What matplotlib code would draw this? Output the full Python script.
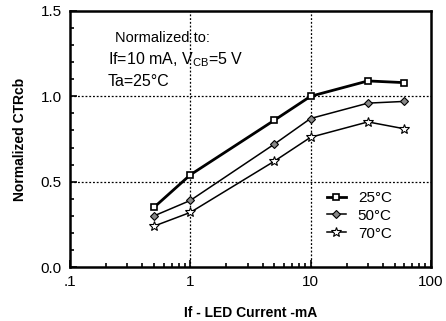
import matplotlib
matplotlib.use('Agg')
import matplotlib.pyplot as plt
from matplotlib.ticker import NullFormatter, MultipleLocator

plt.rcParams['font.family'] = ['Liberation Sans', 'DejaVu Sans']

# data
current = [0.5, 1, 5, 10, 30, 60]
ctr_25 = [0.35, 0.54, 0.86, 1.00, 1.09, 1.08]
ctr_50 = [0.30, 0.39, 0.72, 0.87, 0.96, 0.97]
ctr_70 = [0.24, 0.32, 0.62, 0.76, 0.85, 0.81]

xticks = [0.1, 1, 10, 100]
xticklabels = ['.1', '1', '10', '100']
yticks = [0.0, 0.5, 1.0, 1.5]
yticklabels = ['0.0', '0.5', '1.0', '1.5']

fig = plt.figure(figsize=(4.46, 3.21), dpi=100)
ax = fig.add_axes([0.157, 0.168, 0.809, 0.798])

ax.plot(current, ctr_25, color='k', lw=2.0, marker='s', ms=5, mfc='white',
        mec='k', mew=1.2, label='25\u00b0C')
ax.plot(current, ctr_50, color='k', lw=1.1, marker='D', ms=4.5, mfc='#888888',
        mec='k', mew=0.8, label='50\u00b0C')
ax.plot(current, ctr_70, color='k', lw=1.1, marker='*', ms=7, mfc='white',
        mec='k', mew=0.8, label='70\u00b0C')

ax.set_xscale('log')
ax.set_xlim(0.1, 100)
ax.set_ylim(0, 1.5)
ax.set_xticks(xticks)
ax.set_xticklabels(xticklabels)
ax.xaxis.set_minor_formatter(NullFormatter())
ax.set_yticks(yticks)
ax.set_yticklabels(yticklabels)
ax.yaxis.set_minor_locator(MultipleLocator(0.1))

for v in [0.5, 1.0]:
    ax.axhline(v, color='k', lw=0.9, ls=(0, (1.5, 1.5)), zorder=0)
for v in [1, 10]:
    ax.axvline(v, color='k', lw=0.9, ls=(0, (1.5, 1.5)), zorder=0)

ax.tick_params(which='both', direction='in', top=False, right=False,
               labelsize=11, width=1.2)
ax.tick_params(which='major', length=5, pad=6)
ax.tick_params(which='minor', length=3)
for s in ax.spines.values():
    s.set_linewidth(1.8)

ax.set_ylabel('Normalized CTRcb', fontsize=10, fontweight='bold', labelpad=10)
ax.set_xlabel('If - LED Current -mA', fontsize=10, fontweight='bold', labelpad=12)

ax.text(0.125, 0.878, 'Normalized to:', transform=ax.transAxes, fontsize=10.5)
ax.text(0.105, 0.79, 'If=10 mA, V$_{\\mathregular{CB}}$=5 V', transform=ax.transAxes, fontsize=11.5)
ax.text(0.105, 0.705, 'Ta=25\u00b0C', transform=ax.transAxes, fontsize=11.5)

ax.legend(loc='lower right', bbox_to_anchor=(0.93, 0.05), frameon=False,
          fontsize=11, handlelength=1.2, handletextpad=0.8, labelspacing=0.25)

fig.savefig('out.png', dpi=100)
